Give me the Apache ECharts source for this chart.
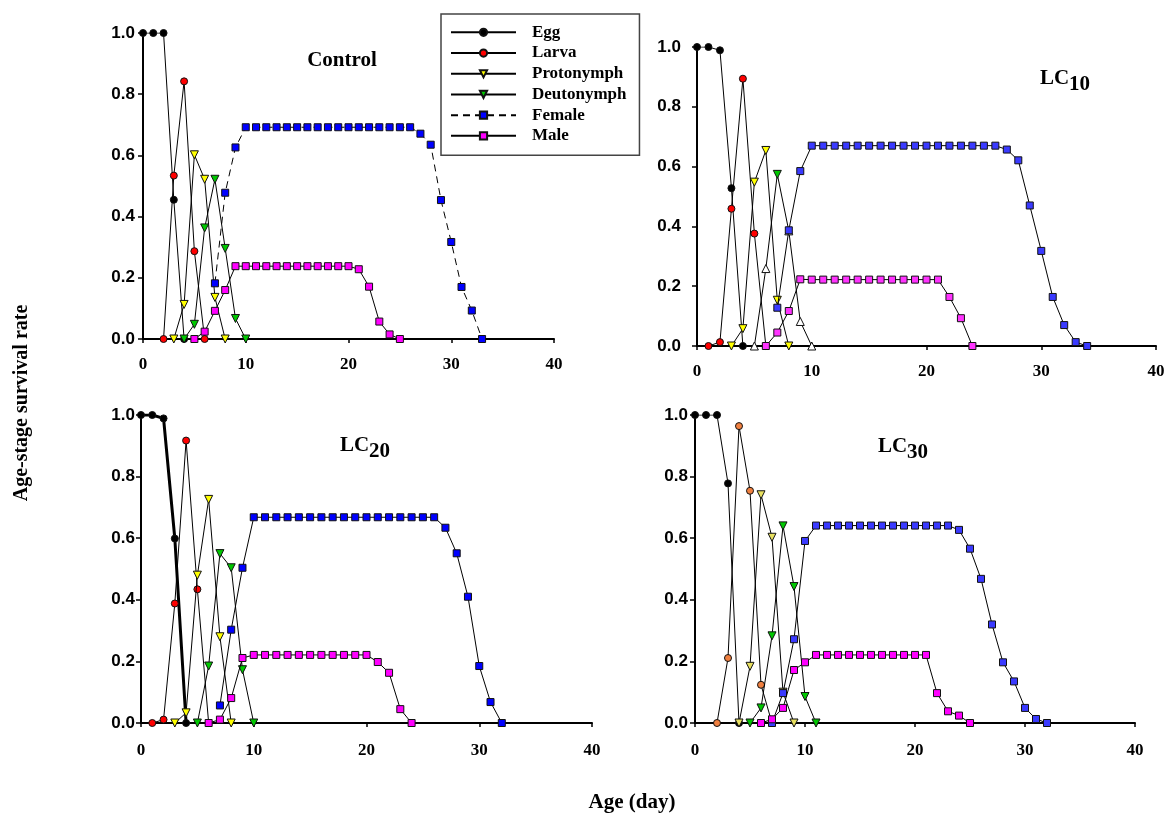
<!DOCTYPE html>
<html><head><meta charset="utf-8">
<script src="https://cdn.jsdelivr.net/npm/echarts@6/dist/echarts.min.js"></script>
<style>html,body{margin:0;padding:0;background:#fff}#c{width:1170px;height:820px}</style>
</head><body><div id="c"></div>
<script>
// ---- data (index = age in days, null = no point) ----
const stageNames = ['Egg','Larva','Protonymph','Deutonymph','Female','Male'];
const panelTitles = ['Control','LC10','LC20','LC30'];
const yTickLabels = ['0.0','0.2','0.4','0.6','0.8','1.0'];
const xTickLabels = ['0','10','20','30','40'];

// Control
const ctrlEgg    = [1,1,1,0.455,0];
const ctrlLarva  = [null,null,0,0.534,0.842,0.287,0];
const ctrlProto  = [null,null,null,0,0.113,0.602,0.522,0.136,0];
const ctrlDeuto  = [null,null,null,null,0,0.048,0.363,0.522,0.296,0.067,0];
const ctrlFemale = [null,null,null,null,null,null,null,0.182,0.478,0.626,
                    0.692,0.692,0.692,0.692,0.692,0.692,0.692,0.692,0.692,0.692,
                    0.692,0.692,0.692,0.692,0.692,0.692,0.692,0.671,0.635,0.454,
                    0.317,0.170,0.093,0];
const ctrlMale   = [null,null,null,null,null,0,0.024,0.092,0.160,0.238,
                    0.238,0.238,0.238,0.238,0.238,0.238,0.238,0.238,0.238,0.238,
                    0.238,0.228,0.171,0.057,0.015,0];
// LC10
const lc10Egg    = [1,1,0.989,0.528,0];
const lc10Larva  = [null,0,0.013,0.459,0.894,0.376,0];
const lc10Proto  = [null,null,null,0,0.058,0.548,0.654,0.153,0];
const lc10Deuto  = [null,null,null,null,null,0,0.259,0.574,0.385,0.082,0];
const lc10Female = [null,null,null,null,null,null,null,0.128,0.387,0.585,
                    0.670,0.670,0.670,0.670,0.670,0.670,0.670,0.670,0.670,0.670,
                    0.670,0.670,0.670,0.670,0.670,0.670,0.670,0.657,0.621,0.470,
                    0.318,0.164,0.070,0.013,0];
const lc10Male   = [null,null,null,null,null,null,0,0.045,0.117,0.223,
                    0.222,0.222,0.222,0.222,0.222,0.222,0.222,0.222,0.222,0.222,
                    0.222,0.222,0.164,0.093,0];
// LC20
const lc20Egg    = [1,1,0.989,0.599,0];
const lc20Larva  = [null,0,0.011,0.388,0.917,0.434,0];
const lc20Proto  = [null,null,null,0,0.033,0.480,0.726,0.280,0];
const lc20Deuto  = [null,null,null,null,null,0,0.185,0.550,0.504,0.173,0];
const lc20Female = [null,null,null,null,null,null,null,0.057,0.303,0.504,
                    0.668,0.668,0.668,0.668,0.668,0.668,0.668,0.668,0.668,0.668,
                    0.668,0.668,0.668,0.668,0.668,0.668,0.668,0.634,0.551,0.410,
                    0.185,0.068,0];
const lc20Male   = [null,null,null,null,null,null,0,0.011,0.081,0.211,
                    0.221,0.221,0.221,0.221,0.221,0.221,0.221,0.221,0.221,0.221,
                    0.221,0.198,0.163,0.045,0];
// LC30
const lc30Egg    = [1,1,1,0.778,0];
const lc30Larva  = [null,null,0,0.211,0.964,0.754,0.124,0];
const lc30Proto  = [null,null,null,null,0,0.184,0.741,0.603,0.100,0];
const lc30Deuto  = [null,null,null,null,null,0,0.049,0.283,0.640,0.443,0.086,0];
const lc30Female = [null,null,null,null,null,null,null,0,0.097,0.272,
                    0.591,0.641,0.641,0.641,0.641,0.641,0.641,0.641,0.641,0.641,
                    0.641,0.641,0.641,0.641,0.627,0.566,0.468,0.320,0.197,0.135,
                    0.049,0.013,0];
const lc30Male   = [null,null,null,null,null,null,0,0.012,0.049,0.172,
                    0.197,0.221,0.221,0.221,0.221,0.221,0.221,0.221,0.221,0.221,
                    0.221,0.221,0.097,0.038,0.024,0];
// LC10 deutonymph marker kinds per day (w = white up-triangle, g = green down-triangle)
const lc10DeutoMarks = [null,null,null,null,null,'w','w','g','w','w','w'];

// ---- layout/styles ----
const grids = [
  {left:143, top:33,  width:411, height:306},
  {left:697, top:47,  width:459, height:299},
  {left:141, top:415, width:451, height:308},
  {left:695, top:415, width:440, height:308}
];
const yLabelMargin = [8, 16, 6, 7];
const xLabelMargin = [17, 17, 19, 19];
const panelData = [
  [ctrlEgg,ctrlLarva,ctrlProto,ctrlDeuto,ctrlFemale,ctrlMale],
  [lc10Egg,lc10Larva,lc10Proto,lc10Deuto,lc10Female,lc10Male],
  [lc20Egg,lc20Larva,lc20Proto,lc20Deuto,lc20Female,lc20Male],
  [lc30Egg,lc30Larva,lc30Proto,lc30Deuto,lc30Female,lc30Male]
];
const panelColors = [
  ['#000000','#ff0000','#ffff00','#00c800','#0000ff','#ff00ff'],
  ['#000000','#ff0000','#ffff00','#00c800','#3a3aff','#ff33ff'],
  ['#000000','#ff0000','#ffff00','#00c800','#0000ff','#ff00ff'],
  ['#000000','#f08040','#e8e060','#00c800','#3a3aff','#ff00ff']
];
const symbols = ['circle','circle','triangle','triangle','rect','rect'];
const rotates = [0,0,180,180,0,0];
const sizes = [7,7,8,8,7,7];

function toPairs(arr){const o=[];arr.forEach((v,i)=>{if(v!==null)o.push([i,v]);});return o;}

const xAxes=[], yAxes=[], series=[];
grids.forEach((g,p)=>{
  xAxes.push({type:'value',gridIndex:p,min:0,max:40,interval:10,
    axisLine:{show:true,onZero:false,lineStyle:{color:'#000',width:2}},
    axisTick:{show:true,length:4,lineStyle:{color:'#000',width:1.5}},
    axisLabel:{margin:xLabelMargin[p],fontFamily:'Liberation Serif',fontWeight:'bold',fontSize:17,color:'#000',
      formatter:v=>xTickLabels[Math.round(v/10)]},
    splitLine:{show:false}});
  yAxes.push({type:'value',gridIndex:p,min:0,max:1,interval:0.2,
    axisLine:{show:true,onZero:false,lineStyle:{color:'#000',width:2}},
    axisTick:{show:true,length:5,lineStyle:{color:'#000',width:1.5}},
    axisLabel:{margin:yLabelMargin[p],fontFamily:'Liberation Sans',fontWeight:'bold',fontSize:17,color:'#000',
      formatter:v=>yTickLabels[Math.round(v*5)]},
    splitLine:{show:false}});
  panelData[p].forEach((arr,s)=>{
    let data = toPairs(arr);
    if(p===1 && s===3){
      data = data.map(d=>{
        const m = lc10DeutoMarks[d[0]];
        if(m==='w') return {value:d,symbol:'triangle',symbolRotate:0,itemStyle:{color:'#ffffff'}};
        return {value:d};
      });
    }
    series.push({
      name:stageNames[s],type:'line',xAxisIndex:p,yAxisIndex:p,
      data:data,symbol:symbols[s],symbolRotate:rotates[s],symbolSize:sizes[s],
      showAllSymbol:true,
      lineStyle:{color:'#000',width:(p===2&&s===0)?3:1,type:(p===0&&s===4)?[7,5]:'solid'},
      itemStyle:{color:panelColors[p][s],borderColor:'#111',borderWidth:1},
      emphasis:{disabled:true},
      z:2+s
    });
  });
});

const titleFont='bold 21px "Liberation Serif"';
const chart = echarts.init(document.getElementById('c'),null,{renderer:'canvas'});
chart.setOption({
  animation:false,
  backgroundColor:'#fff',
  grid:grids,
  xAxis:xAxes, yAxis:yAxes, series:series,
  legend:{
    data:stageNames, orient:'vertical', left:441, top:14,
    itemWidth:65, itemHeight:9, itemGap:0,
    padding:[8,13,9,9],
    backgroundColor:'#fff', borderColor:'#444', borderWidth:1.5,
    textStyle:{fontFamily:'Liberation Serif',fontWeight:'bold',fontSize:17,lineHeight:20.7,color:'#000',padding:[0,0,0,11]},
    selectedMode:false
  },
  graphic:[
    {type:'text',x:342,y:61,style:{text:panelTitles[0],font:titleFont,fill:'#000',textAlign:'center',textVerticalAlign:'middle'}},
    {type:'text',x:1040,y:79,style:{text:'LC',font:titleFont,fill:'#000',textAlign:'left',textVerticalAlign:'middle'}},
    {type:'text',x:1069,y:85,style:{text:panelTitles[1].slice(2),font:titleFont,fill:'#000',textAlign:'left',textVerticalAlign:'middle'}},
    {type:'text',x:340,y:446,style:{text:'LC',font:titleFont,fill:'#000',textAlign:'left',textVerticalAlign:'middle'}},
    {type:'text',x:369,y:452,style:{text:panelTitles[2].slice(2),font:titleFont,fill:'#000',textAlign:'left',textVerticalAlign:'middle'}},
    {type:'text',x:878,y:447,style:{text:'LC',font:titleFont,fill:'#000',textAlign:'left',textVerticalAlign:'middle'}},
    {type:'text',x:907,y:453,style:{text:panelTitles[3].slice(2),font:titleFont,fill:'#000',textAlign:'left',textVerticalAlign:'middle'}},
    {type:'text',x:22,y:403,rotation:Math.PI/2,style:{text:'Age-stage survival rate',font:'bold 20px "Liberation Serif"',fill:'#000',textAlign:'center',textVerticalAlign:'middle'}},
    {type:'text',x:632,y:803,style:{text:'Age (day)',font:'bold 21px "Liberation Serif"',fill:'#000',textAlign:'center',textVerticalAlign:'middle'}}
  ]
});
</script></body></html>
